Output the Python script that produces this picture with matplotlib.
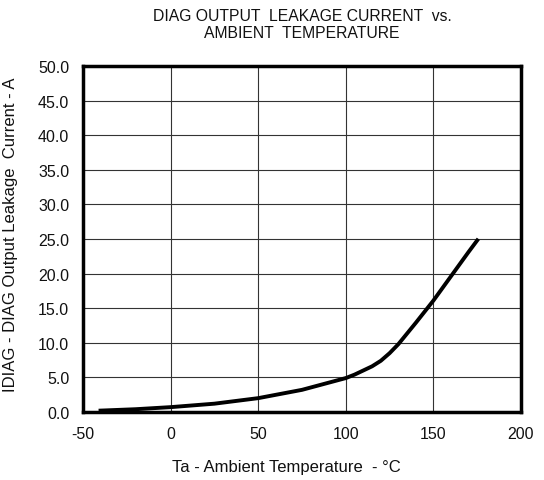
import matplotlib
matplotlib.use("Agg")
import matplotlib.pyplot as plt
import numpy as np

plt.rcParams['font.family'] = ['Liberation Sans', 'DejaVu Sans']
plt.rcParams['axes.unicode_minus'] = False

# leakage current
temp = [-40, -20, 0, 25, 50, 75, 100, 105, 110, 115, 120, 125, 130, 140, 150, 160, 170, 175]
leak = [0.2, 0.4, 0.7, 1.2, 2.0, 3.2, 4.9, 5.4, 6.0, 6.6, 7.4, 8.5, 9.8, 12.9, 16.1, 19.6, 23.1, 24.8]

x_ticks = [-50, 0, 50, 100, 150, 200]
y_ticks = np.arange(0, 50.1, 5)

fig = plt.figure(figsize=(5.44, 4.81), dpi=100)
ax = fig.add_axes([0.1526, 0.1414, 0.8051, 0.7193])

ax.plot(temp, leak, color='black', linewidth=2.8, solid_joinstyle='round', zorder=3)

ax.set_xlim(-50, 200)
ax.set_ylim(0, 50)
ax.set_xticks(x_ticks)
ax.set_yticks(y_ticks)
ax.set_yticklabels(['%.1f' % v for v in y_ticks])
ax.tick_params(length=0, labelsize=11.5, labelcolor='#111111')
ax.tick_params(axis='y', pad=10)
ax.tick_params(axis='x', pad=10)
ax.grid(True, color='#333333', linewidth=0.8)

for s in ax.spines.values():
    s.set_linewidth(2.5)
    s.set_zorder(4)

fig.text(286 / 544, 1 - 468 / 481, 'Ta - Ambient Temperature  - \u00b0C',
         fontsize=12, ha='center', va='center', color='#111111')
fig.text(11 / 544, 1 - 235 / 481, 'IDIAG - DIAG Output Leakage  Current - A',
         fontsize=12, ha='center', va='center', rotation=90, color='#111111')
fig.text(302 / 544, 1 - 25 / 481, 'DIAG OUTPUT  LEAKAGE CURRENT  vs.\nAMBIENT  TEMPERATURE',
         fontsize=11.3, ha='center', va='center', linespacing=1.15, color='#111111')

fig.savefig('out.png', dpi=100)
